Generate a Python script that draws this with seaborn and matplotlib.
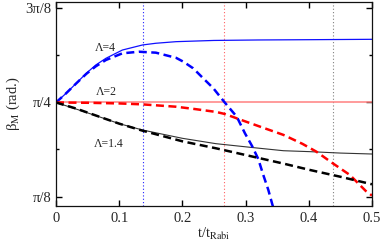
import numpy as np
import matplotlib
matplotlib.use("Agg")
import matplotlib.pyplot as plt
import seaborn as sns

# beta_M values, in units of pi/8
t_blue_solid = [0, 0.016, 0.032, 0.048, 0.063, 0.079, 0.105, 0.137, 0.158, 0.19, 0.25, 0.32, 0.4, 0.5]
b_blue_solid = [2.0, 2.098, 2.204, 2.311, 2.399, 2.47, 2.558, 2.612, 2.63, 2.647, 2.66, 2.665, 2.668, 2.672]

t_blue_dash = [0, 0.016, 0.032, 0.048, 0.063, 0.079, 0.105, 0.131, 0.158, 0.19, 0.2015, 0.217,
               0.233, 0.249, 0.267, 0.286, 0.299, 0.31, 0.32, 0.328, 0.336, 0.343, 0.35]
b_blue_dash = [2.0, 2.098, 2.203, 2.305, 2.385, 2.452, 2.523, 2.54, 2.53, 2.475, 2.434, 2.364,
               2.257, 2.151, 2.0, 1.849, 1.672, 1.54, 1.40, 1.229, 1.069, 0.899, 0.72]

t_red_solid = [0, 0.5]
b_red_solid = [2.0, 2.0]

t_red_dash = [0, 0.05, 0.1, 0.137, 0.19, 0.22, 0.253, 0.267, 0.299, 0.33, 0.36, 0.39,
              0.412, 0.438, 0.465, 0.49, 0.5]
b_red_dash = [2.0, 1.997, 1.99, 1.98, 1.955, 1.93, 1.90, 1.878, 1.80, 1.726, 1.655, 1.56,
              1.477, 1.353, 1.229, 1.06, 1.01]

t_black_solid = [0, 0.016, 0.032, 0.068, 0.1, 0.137, 0.2, 0.253, 0.312, 0.36, 0.402, 0.45, 0.5]
b_black_solid = [2.0, 1.965, 1.93, 1.849, 1.775, 1.707, 1.619, 1.562, 1.52, 1.487, 1.477, 1.462, 1.452]

t_black_dash = [0, 0.032, 0.068, 0.1, 0.137, 0.2, 0.253, 0.312, 0.36, 0.402, 0.45, 0.5]
b_black_dash = [2.0, 1.935, 1.85, 1.775, 1.70, 1.587, 1.513, 1.423, 1.35, 1.282, 1.21, 1.13]

# vertical markers (t)
t_marks = [0.137, 0.266, 0.439]
mark_colors = ["#2020ff", "#ff6060", "#808080"]

labels = ["Λ=4", "Λ=2", "Λ=1.4"]
label_t = [0.0775, 0.08, 0.084]
label_b = [2.583, 2.108, 1.558]

ytick_vals = [1, 2, 3]
ytick_text = ["π/8", "π/4", "3π/8"]
xtick_vals = [0, 0.1, 0.2, 0.3, 0.4, 0.5]
xtick_text = ["0", "0.1", "0.2", "0.3", "0.4", "0.5"]

P8 = np.pi / 8


def main():
    sns.set_theme(style="ticks")
    plt.rcParams["font.family"] = ["Liberation Serif", "DejaVu Serif"]
    plt.rcParams["mathtext.fontset"] = "stix"

    fig, ax = plt.subplots(figsize=(3.82, 2.46), dpi=100)
    fig.subplots_adjust(left=0.1466, right=0.9738, bottom=0.1626, top=0.9919)

    for t, c in zip(t_marks, mark_colors):
        ax.axvline(t, color=c, lw=0.8, linestyle=(0, (1, 2)), zorder=1)

    dash = (0, (3.2, 1.8))
    sns.lineplot(x=t_red_solid, y=np.array(b_red_solid) * P8, ax=ax, color="#ff8080", lw=1.1)
    sns.lineplot(x=t_blue_solid, y=np.array(b_blue_solid) * P8, ax=ax, color="#1010ff", lw=0.9)
    sns.lineplot(x=t_black_solid, y=np.array(b_black_solid) * P8, ax=ax, color="#333333", lw=0.8)
    sns.lineplot(x=t_blue_dash, y=np.array(b_blue_dash) * P8, ax=ax, color="#0000ff", lw=1.8, linestyle=dash)
    sns.lineplot(x=t_red_dash, y=np.array(b_red_dash) * P8, ax=ax, color="#ff0000", lw=1.8, linestyle=dash)
    sns.lineplot(x=t_black_dash, y=np.array(b_black_dash) * P8, ax=ax, color="#000000", lw=1.8, linestyle=dash)

    for s, tx, by in zip(labels, label_t, label_b):
        ax.text(tx, by * P8, s, fontsize=8.5, ha="center", va="center")

    ax.set_xlim(0, 0.5)
    ax.set_ylim(0.899 * P8, 3.069 * P8)
    ax.set_xticks(xtick_vals)
    ax.set_xticklabels(xtick_text)
    ax.set_yticks([v * P8 for v in ytick_vals])
    ax.set_yticklabels(ytick_text)
    ax.set_yticks([1.5 * P8, 2.5 * P8], minor=True)

    ax.tick_params(which="both", direction="in", top=True, right=True, labelsize=10.5,
                   color="#000000")
    ax.tick_params(which="major", length=4, width=1.0)
    ax.tick_params(which="minor", length=2.5, width=1.0)
    ax.tick_params(axis="x", pad=4)
    ax.tick_params(axis="y", pad=3)
    for sp in ax.spines.values():
        sp.set_linewidth(0.9)
        sp.set_color("#111111")

    ax.set_xlabel(r"t/t$_\mathrm{Rabi}$", fontsize=10.5, labelpad=1)
    ax.set_ylabel(r"β$_\mathrm{M}$ (rad.)", fontsize=10.5, labelpad=3)

    fig.savefig("out.png", dpi=100)


if __name__ == "__main__":
    main()
